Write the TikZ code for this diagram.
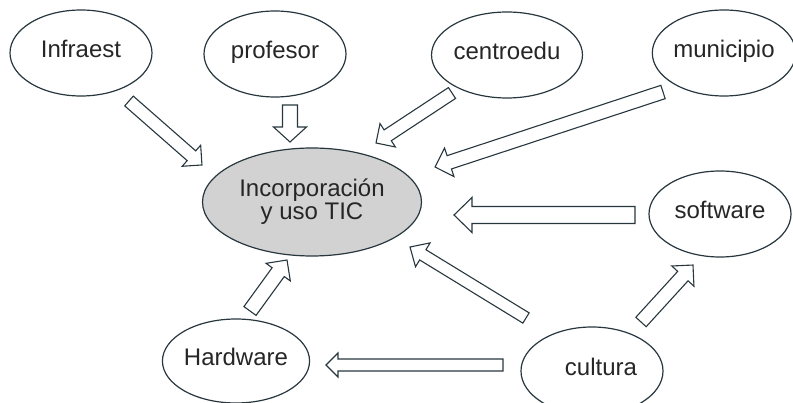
\documentclass[tikz,border=0pt]{standalone}
\usepackage{fontspec}
\setmainfont{Liberation Sans}
\usepackage{tikz}
\usetikzlibrary{shapes}
\usetikzlibrary{calc}
\definecolor{linec}{RGB}{40,55,62}
\definecolor{ticgray}{RGB}{210,210,210}
\tikzset{
    mynode/.style = {ellipse, line width=1.2pt, draw=linec, align=center, fill=white, inner sep=0pt, minimum width=142pt, minimum height=86pt, text height=17pt, text depth=7pt, font=\fontsize{24}{28}\selectfont, text=black!85},
    mynodeg/.style = {ellipse, line width=1.2pt, draw=linec, align=center, fill=ticgray, inner sep=0pt, minimum width=219pt, minimum height=108pt, font=\fontsize{24}{27}\selectfont, text=black!85},
    blockline/.style = {line width=1.1pt, draw=linec, fill=white, line join=miter}
}
% block arrow: from, to, shaft width, head width, head length
\newcommand{\blockarrow}[5]{%
  \draw[blockline] let \p1=(#1), \p2=(#2), \n1={atan2(\y2-\y1,\x2-\x1)}, \n2={veclen(\x2-\x1,\y2-\y1)} in
    [shift={(\p1)}, rotate=\n1]
    (0pt,#3/2) -- (\n2-#5,#3/2) -- (\n2-#5,#4/2) -- (\n2,0pt) -- (\n2-#5,-#4/2) -- (\n2-#5,-#3/2) -- (0pt,-#3/2) -- cycle;
}
\begin{document}
\begin{tikzpicture}[x=1pt,y=-1pt]
\useasboundingbox (0,0) rectangle (793,403);

\node[mynode] at ( 81,  53) (infra) {Infraest};
\node[mynode] at (275,  54) (prof) {profesor};
\node[mynode] at (507,  55) (centro) {centroedu};
\node[mynode, minimum width=134pt] at (724,  53) (muni) {municipio};
\node[mynodeg] at (312, 202) (tic) {Incorporación\\[-4pt]y uso TIC};
\node[mynode] at (720, 214) (soft) {software};
\node[mynode, minimum height=84pt] at (236, 361) (hard) {Hardware};
\node[mynode, minimum height=88pt] at (592, 371) (cult) {\hspace{18pt}cultura};

% arrow ends
\coordinate (infra-a) at (129, 101); \coordinate (infra-b) at (202, 165);
\coordinate (prof-a)  at (290, 105); \coordinate (prof-b)  at (290, 142);
\coordinate (centro-a) at (452, 93); \coordinate (centro-b) at (376, 143);
\coordinate (muni-a)  at (663,  92); \coordinate (muni-b)  at (435, 167);
\coordinate (soft-a)  at (635, 215); \coordinate (soft-b)  at (454, 215);
\coordinate (cult-a)  at (526, 318); \coordinate (cult-b)  at (410, 247);
\coordinate (cuha-a)  at (503, 365); \coordinate (cuha-b)  at (326, 365);
\coordinate (cuso-a)  at (641, 322); \coordinate (cuso-b)  at (693, 265);
\coordinate (hard-a)  at (250, 311); \coordinate (hard-b)  at (287, 260);

\blockarrow{infra-a}{infra-b}{13}{28}{14}
\blockarrow{prof-a}{prof-b}{15}{33}{15}
\blockarrow{centro-a}{centro-b}{13}{28}{14}
\blockarrow{muni-a}{muni-b}{14}{30}{15}
\blockarrow{soft-a}{soft-b}{17}{35}{18}
\blockarrow{cult-a}{cult-b}{12}{28}{15}
\blockarrow{cuha-a}{cuha-b}{12}{24}{12}
\blockarrow{cuso-a}{cuso-b}{14}{30}{15}
\blockarrow{hard-a}{hard-b}{15}{30}{15}

\end{tikzpicture}
\end{document}
